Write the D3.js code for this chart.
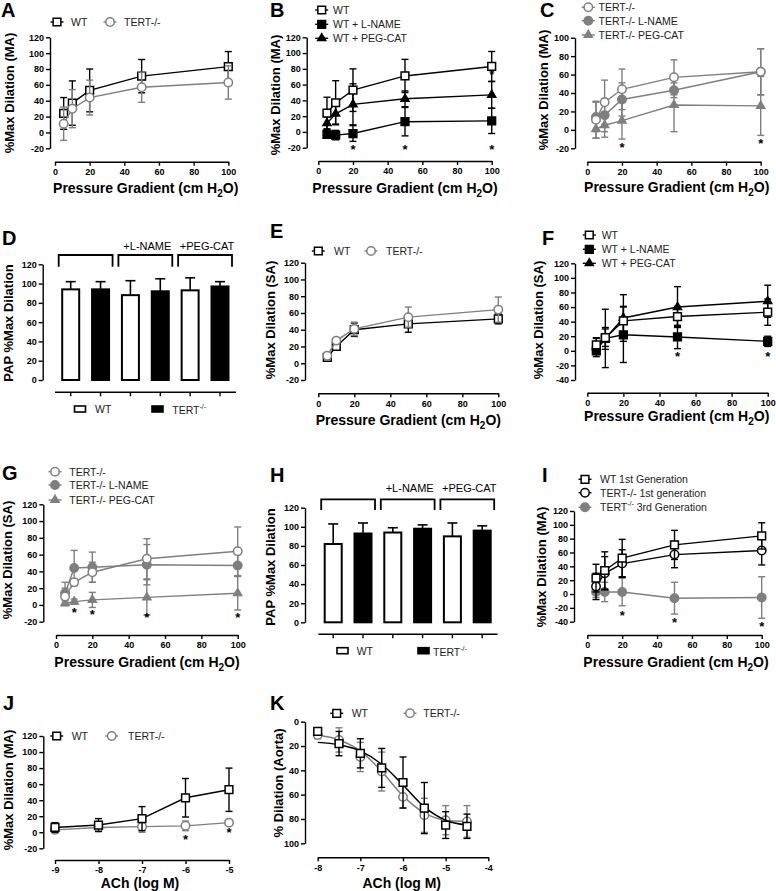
<!DOCTYPE html>
<html><head><meta charset="utf-8">
<script src="https://cdn.jsdelivr.net/npm/d3@7"></script>
<style>body{margin:0;background:#fff}svg{display:block}</style>
</head><body><svg id="c" width="776" height="891"></svg>
<script>
// ---------------- DATA ----------------
const pressure = [5, 10, 20, 50, 100];
const pressureTicks = [0, 20, 40, 60, 80, 100];
// A
const A_WT = [24, 37, 53, 71, 83], A_WT_err = [20, 28, 27, 21, 19];
const A_TERT = [11, 30, 44, 57, 63], A_TERT_err = [21, 24, 22, 19, 21];
// B
const B_WT = [24, 37, 53, 71, 83], B_WT_err = [20, 28, 27, 21, 19];
const B_LN = [-3, -4, -2, 13, 14], B_LN_err = [4, 6, 10, 18, 16];
const B_PC = [11, 23, 35, 42, 47], B_PC_err = [8, 13, 26, 10, 17];
const B_starX = [20, 50, 100, 100], B_starY = [-19, -19, -19, 76];
// C
const C_TERT = [11, 30, 44, 57, 63], C_TERT_err = [20, 24, 22, 19, 25];
const C_LN = [14, 16, 33, 43, 63], C_LN_err = [16, 18, 18, 8, 25];
const C_PC = [1, 5, 10, 27, 26], C_PC_err = [10, 13, 20, 29, 32];
const C_starX = [20, 100], C_starY = [-16, -11];
// D
const D_vals = [94, 94, 88, 92, 93, 97], D_err = [8, 8, 15, 13, 13, 5];
// E
const E_WT = [7, 20, 40, 47, 53], E_WT_err = [3, 4, 8, 10, 6];
const E_TERT = [9, 27, 41, 55, 64], E_TERT_err = [4, 3, 8, 12, 15];
// F
const F_WT = [8, 18, 41, 47, 53], F_WT_err = [9, 12, 20, 14, 18];
const F_LN = [0, 17, 22, 19, 13], F_LN_err = [5, 40, 38, 16, 7];
const F_PC = [5, 17, 45, 60, 68], F_PC_err = [13, 15, 32, 28, 22];
const F_starX = [50, 100], F_starY = [-4, -4];
// G
const G_TERT = [10, 27, 39, 55, 64], G_TERT_err = [10, 4, 12, 24, 29];
const G_LN = [14, 44, 45, 48, 47], G_LN_err = [13, 21, 18, 24, 13];
const G_PC = [2, 4, 6, 9, 14], G_PC_err = [3, 3, 9, 21, 20];
const G_starX = [10, 20, 50, 100], G_starY = [-6, -8, -12, -11];
// H
const H_vals = [82, 93, 94, 98, 90, 96], H_err = [21, 11, 5, 4, 14, 5];
// I
const I_WT = [23, 34, 52, 71, 84], I_WT_err = [20, 27, 27, 21, 19];
const I_T1 = [11, 30, 44, 57, 63], I_T1_err = [19, 24, 20, 19, 21];
const I_T3 = [3, 3, 3, -6, -5], I_T3_err = [8, 14, 20, 23, 30];
const I_starX = [20, 50, 100], I_starY = [-26, -37, -43];
// J
const J_dose = [-9, -8, -7, -6, -5];
const J_WT = [6, 9, 17, 43, 53], J_WT_err = [6, 8, 15, 24, 27];
const J_TERT = [3, 6, 7, 8, 12], J_TERT_err = [4, 5, 7, 6, 2];
const J_starX = [-6, -5], J_starY = [-5, 3];
// K
const K_dose = [-8, -7.5, -7, -6.5, -6, -5.5, -5, -4.5];
const K_WT = [8, 18, 26, 38, 50, 71, 85, 86], K_WT_err = [3, 10, 12, 16, 21, 21, 11, 10];
const K_TERT = [11, 15, 29, 41, 62, 77, 81, 82], K_TERT_err = [3, 10, 12, 16, 9, 14, 12, 13];
const K_WT_fit = [17, 19, 24, 35, 52, 70, 81, 85];
const K_TERT_fit = [11, 15, 24, 41, 61, 75, 81, 82];

// ---------------- DRAWING ----------------
const svg = d3.select('#c');
const FONT = '"Liberation Sans", Arial, Helvetica, sans-serif';
const BLACK = '#000', GRAY = '#7f7f7f';
const fmt = d => String(d);

function drawMarker(g, shape, cx, cy, color, filled) {
  const types = {square: d3.symbolSquare, circle: d3.symbolCircle, triangle: d3.symbolTriangle};
  const sizes = {square: 60, circle: 56, triangle: 28};
  g.append('path')
    .attr('d', d3.symbol().type(types[shape]).size(sizes[shape])())
    .attr('transform', `translate(${cx},${cy})`)
    .attr('fill', filled ? color : '#fff')
    .attr('stroke', color).attr('stroke-width', 1.5);
}

function panelLetter(t, x, y) {
  svg.append('text').attr('x', x).attr('y', y).text(t)
    .attr('font-family', FONT).attr('font-weight', 'bold').attr('font-size', 20).attr('fill', '#000');
}

function xTitle(x, y, kind) {
  const t = svg.append('text').attr('x', x).attr('y', y).attr('text-anchor', 'middle')
    .attr('font-family', FONT).attr('font-weight', 'bold').attr('font-size', 14).attr('fill', '#000');
  if (kind === 'pressure') {
    t.append('tspan').text('Pressure Gradient (cm H');
    t.append('tspan').text('2').attr('font-size', 10).attr('dy', 4);
    t.append('tspan').text('O)').attr('dy', -4);
  } else {
    t.text(kind);
  }
}

function yTitle(x, y, label, size) {
  svg.append('text').attr('transform', `translate(${x},${y}) rotate(-90)`)
    .attr('text-anchor', 'middle').attr('dominant-baseline', 'central')
    .attr('font-family', FONT).attr('font-weight', 'bold').attr('font-size', size || 13).attr('fill', '#000')
    .text(label);
}

function styleAxis(a) {
  a.selectAll('path,line').attr('stroke', '#000').attr('stroke-width', 1.4);
  a.selectAll('text').attr('font-family', FONT).attr('font-weight', 'bold').attr('font-size', 9).attr('fill', '#000');
}

function legendText(g, x, y, label) {
  const t = g.append('text').attr('x', x).attr('y', y).attr('dominant-baseline', 'central')
    .attr('font-family', FONT).attr('font-size', 10.5).attr('fill', '#222');
  if (label.includes('^')) {
    const [a, sup, b] = label.split('^');
    t.append('tspan').text(a);
    t.append('tspan').text(sup).attr('font-size', 7).attr('dy', -4);
    if (b) t.append('tspan').text(b).attr('dy', 4);
  } else t.text(label);
}

function linePanel(p) {
  const g = svg.append('g');
  const x = d3.scaleLinear().domain(p.xDomain).range([p.x0, p.x1]);
  const y = d3.scaleLinear().domain(p.yDomain).range(p.yRange);
  const ya = g.append('g').attr('transform', `translate(${p.yAxisX},0)`)
    .call(d3.axisLeft(y).tickValues(p.yTicks).tickFormat(fmt).tickSize(4).tickSizeOuter(0).tickPadding(2));
  const xa = g.append('g').attr('transform', `translate(0,${p.xAxisY})`)
    .call(d3.axisBottom(x).tickValues(p.xTicks).tickFormat(fmt).tickSize(4).tickSizeOuter(0).tickPadding(3));
  styleAxis(ya); styleAxis(xa);

  p.series.forEach(s => {
    const pts = s.x.map((xv, i) => ({x: xv, y: s.y[i], e: s.err[i]}));
    pts.forEach(d => {
      const cx = x(d.x), yt = y(d.y + d.e), yb = y(d.y - d.e);
      g.append('line').attr('x1', cx).attr('x2', cx).attr('y1', yt).attr('y2', yb)
        .attr('stroke', s.color).attr('stroke-width', 1.4);
      [yt, yb].forEach(yy => g.append('line').attr('x1', cx - 3.5).attr('x2', cx + 3.5)
        .attr('y1', yy).attr('y2', yy).attr('stroke', s.color).attr('stroke-width', 1.4));
    });
    if (s.fit) {
      g.append('path').datum(s.x.map((xv, i) => [x(xv), y(s.fit[i])]))
        .attr('d', d3.line().curve(d3.curveMonotoneX)).attr('fill', 'none')
        .attr('stroke', s.color).attr('stroke-width', 1.5);
    } else {
      g.append('path').datum(pts)
        .attr('d', d3.line().x(d => x(d.x)).y(d => y(d.y))).attr('fill', 'none')
        .attr('stroke', s.color).attr('stroke-width', 1.4);
    }
    pts.forEach(d => drawMarker(g, s.shape, x(d.x), y(d.y), s.color, s.filled));
  });

  if (p.stars) {
    p.stars.x.forEach((sx, i) => {
      g.append('text').attr('x', x(sx)).attr('y', y(p.stars.y[i]) + 7.5).attr('text-anchor', 'middle')
        .attr('font-family', FONT).attr('font-weight', 'bold').attr('font-size', 13).attr('fill', '#000').text('*');
    });
  }

  p.legend.forEach(l => {
    g.append('line').attr('x1', l.mx - 6.5).attr('x2', l.mx + 6.5).attr('y1', l.my).attr('y2', l.my)
      .attr('stroke', l.s.color).attr('stroke-width', 1.4);
    drawMarker(g, l.s.shape, l.mx, l.my, l.s.color, l.s.filled);
    legendText(g, l.tx, l.my, l.s.label);
  });
}

function barPanel(p) {
  const g = svg.append('g');
  const x = d3.scalePoint().domain(d3.range(p.values.length)).range([p.c0, p.c1]);
  const y = d3.scaleLinear().domain([0, 120]).range([p.yBot, p.yTop]);
  const ya = g.append('g').attr('transform', `translate(${p.yAxisX},0)`)
    .call(d3.axisLeft(y).tickValues(d3.range(0, 121, 20)).tickFormat(fmt).tickSize(4).tickSizeOuter(0).tickPadding(2));
  styleAxis(ya);
  g.append('line').attr('x1', p.xl0).attr('x2', p.xl1).attr('y1', p.xAxisY).attr('y2', p.xAxisY)
    .attr('stroke', '#000').attr('stroke-width', 1.4);
  p.values.forEach((v, i) => {
    g.append('line').attr('x1', x(i)).attr('x2', x(i)).attr('y1', p.xAxisY).attr('y2', p.xAxisY + 4)
      .attr('stroke', '#000').attr('stroke-width', 1.4);
  });
  const bw = 17;
  p.values.forEach((v, i) => {
    const cx = x(i), top = y(v), et = y(v + p.err[i]);
    g.append('line').attr('x1', cx).attr('x2', cx).attr('y1', top).attr('y2', et).attr('stroke', '#000').attr('stroke-width', 1.6);
    g.append('line').attr('x1', cx - 5).attr('x2', cx + 5).attr('y1', et).attr('y2', et).attr('stroke', '#000').attr('stroke-width', 1.6);
    g.append('rect').attr('x', cx - bw / 2).attr('y', top).attr('width', bw).attr('height', y(0) - top)
      .attr('fill', i % 2 ? '#000' : '#fff').attr('stroke', '#000').attr('stroke-width', 2);
  });
  [[0, 1, ''], [2, 3, '+L-NAME'], [4, 5, '+PEG-CAT']].forEach(([a, b, lab]) => {
    const l = x(a) - 12, r = x(b) + 12;
    g.append('path').attr('d', `M${l},${p.brB}V${p.brT}H${r}V${p.brB}`)
      .attr('fill', 'none').attr('stroke', '#000').attr('stroke-width', 1.8);
    if (lab) g.append('text').attr('x', (x(a) + x(b)) / 2 + 2).attr('y', p.labY).attr('text-anchor', 'middle')
      .attr('font-family', FONT).attr('font-size', 11).attr('fill', '#000').text(lab);
  });
  // legend
  g.append('rect').attr('x', p.lg[0]).attr('y', p.lgY - 3).attr('width', 11).attr('height', 6)
    .attr('fill', '#fff').attr('stroke', '#000').attr('stroke-width', 1.6);
  legendText(g, p.lg[1], p.lgY, 'WT');
  g.append('rect').attr('x', p.lg[2]).attr('y', p.lgY - 3).attr('width', 11).attr('height', 6)
    .attr('fill', '#000').attr('stroke', '#000').attr('stroke-width', 1.6);
  legendText(g, p.lg[3], p.lgY + 1, 'TERT^-/-');
}

const S = (x, y, err, color, shape, filled, label, fit) => ({x, y, err, color, shape, filled, label, fit});
const yT20 = d3.range(-20, 121, 20), yT40 = d3.range(-40, 121, 20), yTC = d3.range(-20, 101, 20);

// ---- A ----
{
  const wt = S(pressure, A_WT, A_WT_err, BLACK, 'square', false, 'WT');
  const te = S(pressure, A_TERT, A_TERT_err, GRAY, 'circle', false, 'TERT-/-');
  linePanel({xDomain: [0, 100], x0: 55, x1: 228.3, yDomain: [-20, 120], yRange: [148.3, 37.3], yAxisX: 50, xAxisY: 161.7,
    xTicks: pressureTicks, yTicks: yT20, series: [wt, te],
    legend: [{s: wt, mx: 57, my: 22, tx: 71}, {s: te, mx: 110, my: 22, tx: 124}]});
  panelLetter('A', 1, 17); xTitle(145.7, 193, 'pressure'); yTitle(9, 93, '%Max Dilation (MA)');
}
// ---- B ----
{
  const wt = S(pressure, B_WT, B_WT_err, BLACK, 'square', false, 'WT');
  const ln = S(pressure, B_LN, B_LN_err, BLACK, 'square', true, 'WT + L-NAME');
  const pc = S(pressure, B_PC, B_PC_err, BLACK, 'triangle', true, 'WT + PEG-CAT');
  linePanel({xDomain: [0, 100], x0: 318.3, x1: 491.7, yDomain: [-20, 120], yRange: [147.7, 37.3], yAxisX: 306.7, xAxisY: 161,
    xTicks: pressureTicks, yTicks: yT20, series: [ln, pc, wt], stars: {x: B_starX, y: B_starY},
    legend: [{s: wt, mx: 321.7, my: 10, tx: 333}, {s: ln, mx: 321.7, my: 24.3, tx: 333}, {s: pc, mx: 321.7, my: 38.3, tx: 333}]});
  panelLetter('B', 270, 17); xTitle(405, 193, 'pressure'); yTitle(275, 95, '%Max Dilation (MA)');
}
// ---- C ----
{
  const te = S(pressure, C_TERT, C_TERT_err, GRAY, 'circle', false, 'TERT-/-');
  const ln = S(pressure, C_LN, C_LN_err, GRAY, 'circle', true, 'TERT-/- L-NAME');
  const pc = S(pressure, C_PC, C_PC_err, GRAY, 'triangle', true, 'TERT-/- PEG-CAT');
  linePanel({xDomain: [0, 100], x0: 587.3, x1: 760.7, yDomain: [-20, 100], yRange: [148.3, 37.7], yAxisX: 575, xAxisY: 161.7,
    xTicks: pressureTicks, yTicks: yTC, series: [pc, ln, te], stars: {x: C_starX, y: C_starY},
    legend: [{s: te, mx: 588.3, my: 7.3, tx: 598.5}, {s: ln, mx: 588.3, my: 20.7, tx: 598.5}, {s: pc, mx: 588.3, my: 35, tx: 598.5}]});
  panelLetter('C', 540, 17); xTitle(676.7, 192, 'pressure'); yTitle(543, 90, '%Max Dilation (MA)');
}
// ---- D ----
barPanel({values: D_vals, err: D_err, c0: 70.7, c1: 220, yBot: 380, yTop: 264.3, yAxisX: 42.7,
  xAxisY: 392.3, xl0: 55, xl1: 236, brT: 255, brB: 266.7, labY: 250, lg: [74.5, 95, 152, 172.3], lgY: 409});
panelLetter('D', 2, 245); yTitle(8, 323, 'PAP %Max Dilation');
// ---- E ----
{
  const wt = S(pressure, E_WT, E_WT_err, BLACK, 'square', false, 'WT');
  const te = S(pressure, E_TERT, E_TERT_err, GRAY, 'circle', false, 'TERT-/-');
  linePanel({xDomain: [0, 100], x0: 318.3, x1: 498.3, yDomain: [-20, 120], yRange: [380, 262.7], yAxisX: 305, xAxisY: 393.3,
    xTicks: pressureTicks, yTicks: yT20, series: [wt, te],
    legend: [{s: wt, mx: 318.3, my: 251, tx: 334}, {s: te, mx: 371, my: 251, tx: 386}]});
  panelLetter('E', 270, 238); xTitle(408.3, 425, 'pressure'); yTitle(270, 320, '%Max Dilation (SA)');
}
// ---- F ----
{
  const wt = S(pressure, F_WT, F_WT_err, BLACK, 'square', false, 'WT');
  const ln = S(pressure, F_LN, F_LN_err, BLACK, 'square', true, 'WT + L-NAME');
  const pc = S(pressure, F_PC, F_PC_err, BLACK, 'triangle', true, 'WT + PEG-CAT');
  linePanel({xDomain: [0, 100], x0: 587.3, x1: 767.7, yDomain: [-40, 120], yRange: [380, 263.3], yAxisX: 575, xAxisY: 392.7,
    xTicks: pressureTicks, yTicks: yT40, series: [ln, pc, wt], stars: {x: F_starX, y: F_starY},
    legend: [{s: wt, mx: 589.3, my: 235, tx: 601.7}, {s: ln, mx: 589.3, my: 249.3, tx: 601.7}, {s: pc, mx: 589.3, my: 263.3, tx: 601.7}]});
  panelLetter('F', 542, 245); xTitle(676.7, 421, 'pressure'); yTitle(538, 320, '%Max Dilation (SA)');
}
// ---- G ----
{
  const te = S(pressure, G_TERT, G_TERT_err, GRAY, 'circle', false, 'TERT-/-');
  const ln = S(pressure, G_LN, G_LN_err, GRAY, 'circle', true, 'TERT-/- L-NAME');
  const pc = S(pressure, G_PC, G_PC_err, GRAY, 'triangle', true, 'TERT-/- PEG-CAT');
  linePanel({xDomain: [0, 100], x0: 56, x1: 237.7, yDomain: [-20, 120], yRange: [621.7, 504.3], yAxisX: 43.3, xAxisY: 635,
    xTicks: pressureTicks, yTicks: yT20, series: [pc, ln, te], stars: {x: G_starX, y: G_starY},
    legend: [{s: te, mx: 55, my: 471.7, tx: 69.3}, {s: ln, mx: 55, my: 485, tx: 69.3}, {s: pc, mx: 55, my: 500, tx: 69.3}]});
  panelLetter('G', 2, 480); xTitle(147, 667, 'pressure'); yTitle(7, 560, '%Max Dilation (SA)');
}
// ---- H ----
barPanel({values: H_vals, err: H_err, c0: 333.2, c1: 482.2, yBot: 622.3, yTop: 507.7, yAxisX: 305,
  xAxisY: 634.3, xl0: 318.3, xl1: 497.7, brT: 499.3, brB: 510, labY: 491.5, lg: [337, 356.7, 418, 433], lgY: 650.7});
panelLetter('H', 270, 482); yTitle(270, 567, 'PAP %Max Dilation');
// ---- I ----
{
  const wt = S(pressure, I_WT, I_WT_err, BLACK, 'square', false, 'WT 1st Generation');
  const t1 = S(pressure, I_T1, I_T1_err, BLACK, 'circle', false, 'TERT-/-  1st generation');
  const t3 = S(pressure, I_T3, I_T3_err, GRAY, 'circle', true, 'TERT^-/-^ 3rd Generation');
  linePanel({xDomain: [0, 100], x0: 587.3, x1: 761.7, yDomain: [-40, 120], yRange: [621.7, 511], yAxisX: 574, xAxisY: 635,
    xTicks: pressureTicks, yTicks: yT40, series: [t3, t1, wt], stars: {x: I_starX, y: I_starY},
    legend: [{s: wt, mx: 585, my: 479.3, tx: 600}, {s: t1, mx: 585, my: 492.7, tx: 600}, {s: t3, mx: 585, my: 507.3, tx: 600}]});
  panelLetter('I', 542, 482); xTitle(676, 667, 'pressure'); yTitle(541.7, 567, '%Max Dilation (MA)');
}
// ---- J ----
{
  const wt = S(J_dose, J_WT, J_WT_err, BLACK, 'square', false, 'WT');
  const te = S(J_dose, J_TERT, J_TERT_err, GRAY, 'circle', false, 'TERT-/-');
  linePanel({xDomain: [-9, -5], x0: 55, x1: 229, yDomain: [-20, 120], yRange: [848.3, 736], yAxisX: 43.3, xAxisY: 860,
    xTicks: [-9, -8, -7, -6, -5], yTicks: yT20, series: [te, wt], stars: {x: J_starX, y: J_starY},
    legend: [{s: wt, mx: 56.7, my: 736, tx: 71.7}, {s: te, mx: 111.7, my: 736, tx: 128}]});
  panelLetter('J', 3, 710); xTitle(140, 888, 'ACh (log M)'); yTitle(8, 790, '%Max Dilation (MA)');
}
// ---- K ----
{
  const wt = S(K_dose, K_WT, K_WT_err, BLACK, 'square', false, 'WT', K_WT_fit);
  const te = S(K_dose, K_TERT, K_TERT_err, GRAY, 'circle', false, 'TERT-/-', K_TERT_fit);
  linePanel({xDomain: [-8, -4], x0: 317.7, x1: 488.3, yDomain: [0, 100], yRange: [721.7, 843.3], yAxisX: 305, xAxisY: 857.3,
    xTicks: [-8, -7, -6, -5, -4], yTicks: d3.range(0, 101, 20), series: [te, wt],
    legend: [{s: wt, mx: 336.7, my: 713.3, tx: 351.7}, {s: te, mx: 410, my: 713.3, tx: 423.3}]});
  panelLetter('K', 270, 710); xTitle(401.7, 888, 'ACh (log M)'); yTitle(278, 783, '% Dilation (Aorta)');
}
</script></body></html>
